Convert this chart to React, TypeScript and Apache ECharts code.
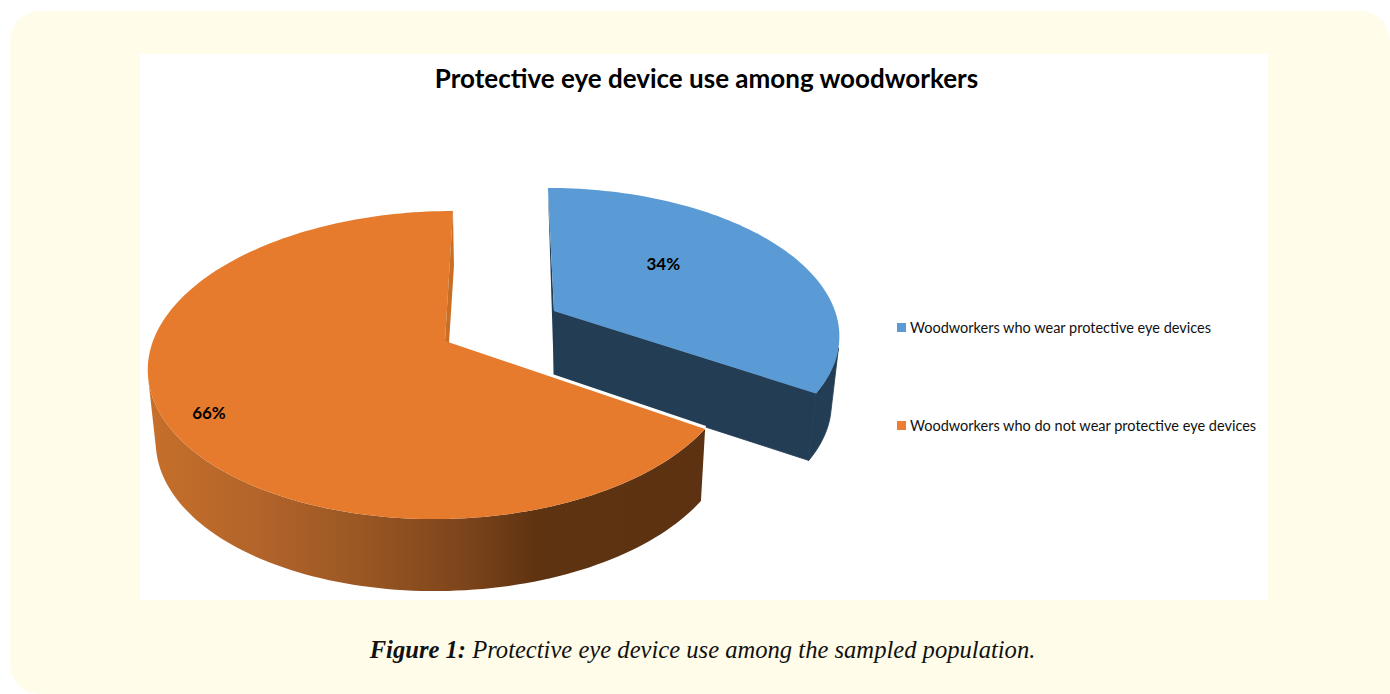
import React, { useEffect, useRef } from "react";
import * as echarts from "echarts";

const WIDTH = 1390;
const HEIGHT = 694;

// Chart content
const chartTitle = "Protective eye device use among woodworkers";
const captionLead = "Figure 1:";
const captionBody = " Protective eye device use among the sampled population.";
const sliceNames = [
  "Woodworkers who wear protective eye devices",
  "Woodworkers who do not wear protective eye devices",
];
const sliceShares = [34, 66];

const topColors = ["#5B9BD5", "#E67B2D"];
const legendColors = ["#5B9BD5", "#ED7D31"];
const BLUE_WALL = "#233D54";
const ORANGE_SLIVER = "#C96E25";

const LATIN = "Lato, 'Open Sans', sans-serif";

// Perspective model of one exploded slice: a unit disc tilted away from the viewer.
type View = {
  ax: number; ay: number; // slice tip on screen
  sx: number; sy: number; // radius scale
  k: number;              // perspective strength
  q: number; s: number;   // horizontal asymmetry and shear
  depth: number;          // wall height
  shrinkL: number; shrinkR: number; // lower-rim contraction on each side of the tip
  labelR: number; labelDy: number;
};

const views: View[] = [
  { ax: 554, ay: 311, sx: 281, sy: 141.5, k: 0.15, q: 0, s: -7, depth: 67, shrinkL: 0.97, shrinkR: 0.972, labelR: 0.465, labelDy: -17 },
  { ax: 445, ay: 341, sx: 290, sy: 150.3, k: 0.156, q: -2, s: 9.2, depth: 72, shrinkL: 0.973, shrinkR: 0.984, labelR: 0.85, labelDy: 6 },
];

type Pt = [number, number];

const rad = (deg: number) => (deg * Math.PI) / 180;

function project(v: View, deg: number, r = 1): Pt {
  const x = r * Math.sin(rad(deg));
  const y = r * Math.cos(rad(deg));
  const w = 1 + v.k * y;
  const X = x / w;
  const Y = y / w;
  return [v.ax + v.sx * X + v.q * X * X + v.s * Y, v.ay - v.sy * Y];
}

function lower(v: View, p: Pt): Pt {
  const shrink = p[0] < v.ax ? v.shrinkL : v.shrinkR;
  return [v.ax + (p[0] - v.ax) * shrink, p[1] + v.depth];
}

function rimPoints(v: View, from: number, to: number): Pt[] {
  const steps = Math.max(8, Math.ceil((to - from) / 1.5));
  const pts: Pt[] = [];
  for (let i = 0; i <= steps; i++) pts.push(project(v, from + ((to - from) * i) / steps));
  return pts;
}

// Outer wall: only the stretch of rim that faces the viewer, so the fold at the
// silhouette does not cancel itself under the non-zero fill rule.
function wallRing(v: View, rim: Pt[]): Pt[] {
  const front = rim.filter((p, i) => {
    const n = rim[Math.min(i + 1, rim.length - 1)];
    const o = rim[Math.max(i - 1, 0)];
    const low = lower(v, p);
    const cross = (n[0] - o[0]) * (low[1] - p[1]) - (n[1] - o[1]) * (low[0] - p[0]);
    return cross < 0;
  });
  return [...front, ...front.map((p) => lower(v, p)).reverse()];
}

const total = sliceShares.reduce((a, b) => a + b, 0);
const sliceAngles = sliceShares.map((share, i) => {
  const before = sliceShares.slice(0, i).reduce((a, b) => a + b, 0);
  return [(before / total) * 360, ((before + share) / total) * 360];
});

function polygon(points: Pt[], fill: any, seam = false) {
  return {
    type: "polygon",
    shape: { points },
    style: seam ? { fill, stroke: fill, lineWidth: 0.8 } : { fill, stroke: "none" },
  };
}

function valueLabel(v: View, from: number, to: number, text: string) {
  const [x, y] = project(v, (from + to) / 2, v.labelR);
  return {
    type: "text",
    x,
    y: y + v.labelDy,
    style: {
      text,
      fill: "#000",
      font: `bold 17px ${LATIN}`,
      align: "center",
      verticalAlign: "middle",
    },
  };
}

function renderBlue() {
  const v = views[0];
  const [a, b] = sliceAngles[0];
  const tip = project(v, 0, 0);
  const rim = rimPoints(v, a, b);
  const first = rim[0];
  const last = rim[rim.length - 1];
  const tipLow = lower(v, tip);
  return {
    type: "group",
    children: [
      polygon([tip, last, lower(v, last), tipLow], BLUE_WALL, true),
      polygon(wallRing(v, rim), BLUE_WALL, true),
      polygon([first, tip, tipLow], BLUE_WALL),
      polygon([tip, ...rim], topColors[0]),
      valueLabel(v, a, b, `${sliceShares[0]}%`),
    ],
  };
}

function renderOrange() {
  const v = views[1];
  const [a, b] = sliceAngles[1];
  const tip = project(v, 0, 0);
  const rim = rimPoints(v, a, b);
  const first = rim[0];
  const last = rim[rim.length - 1];
  const wallFill = new echarts.graphic.LinearGradient(0, 0, 1, 0, [
    { offset: 0, color: "#C76F2B" },
    { offset: 0.2, color: "#B2642A" },
    { offset: 0.38, color: "#9A5723" },
    { offset: 0.56, color: "#7E451B" },
    { offset: 0.7, color: "#5E3311" },
    { offset: 1, color: "#5C3212" },
  ]);
  return {
    type: "group",
    children: [
      // white seam between this slice and its exploded neighbour
      {
        type: "line",
        shape: { x1: tip[0], y1: tip[1], x2: first[0], y2: first[1] },
        style: { stroke: "#FFFFFF", lineWidth: 6 },
      },
      polygon(wallRing(v, rim), wallFill),
      polygon([tip, ...rim], topColors[1]),
      polygon(
        [last, [last[0] + 1, last[1] + 55], [tip[0] + 4, tip[1] + 2], tip],
        ORANGE_SLIVER,
      ),
      valueLabel(v, a, b, `${sliceShares[1]}%`),
    ],
  };
}

const renderers = [renderBlue, renderOrange];

export default function App() {
  const ref = useRef<HTMLDivElement>(null);

  useEffect(() => {
    const chart = echarts.init(ref.current!, undefined, { renderer: "svg" });
    chart.setOption({
      animation: false,
      title: {
        text: chartTitle,
        left: 706.5,
        top: 65,
        padding: 0,
        textAlign: "center",
        textStyle: { fontFamily: LATIN, fontWeight: "bold", fontSize: 26, color: "#000" },
      },
      legend: {
        orient: "vertical",
        left: 897,
        top: 320,
        padding: 0,
        itemWidth: 9,
        itemHeight: 9,
        itemGap: 83,
        selectedMode: false,
        textStyle: { fontFamily: LATIN, fontSize: 14.5, color: "#111", padding: [0, 0, 0, -1] },
        data: sliceNames.map((name, i) => ({
          name,
          icon: "rect",
          itemStyle: { color: legendColors[i] },
        })),
      },
      graphic: [
        {
          type: "rect",
          z: -10,
          shape: { x: 10, y: 11, width: WIDTH - 10, height: HEIGHT - 11, r: [30, 30, 0, 30] },
          style: { fill: "#FFFCE9" },
        },
        {
          type: "rect",
          z: -9,
          shape: { x: 140, y: 54, width: 1128, height: 546 },
          style: { fill: "#FFFFFF" },
        },
        {
          type: "text",
          z: -8,
          x: 702.5,
          y: 649,
          style: {
            text: `{b|${captionLead}}{i|${captionBody}}`,
            align: "center",
            verticalAlign: "middle",
            rich: {
              b: { font: "italic bold 24.6px 'Liberation Serif', serif", fill: "#111" },
              i: { font: "italic 24.6px 'Liberation Serif', serif", fill: "#111" },
            },
          },
        },
      ],
      series: sliceNames.map((name, i) => ({
        type: "custom",
        name,
        coordinateSystem: "none",
        silent: true,
        z: 2 + i,
        itemStyle: { color: legendColors[i] },
        data: [{ name, value: sliceShares[i] }],
        renderItem: () => renderers[i](),
      })),
    });
    return () => chart.dispose();
  }, []);

  return (
    <div
      ref={ref}
      style={{ position: "absolute", left: 0, top: 0, width: WIDTH, height: HEIGHT }}
    />
  );
}
